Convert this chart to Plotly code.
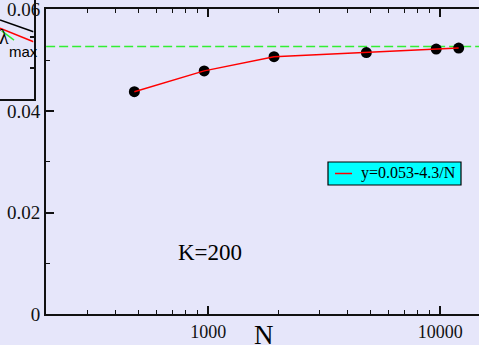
import plotly.graph_objects as go

# ---- data ----
N_values = [480, 960, 1920, 4800, 9600, 12000]
lambda_max = [0.0438, 0.0479, 0.0507, 0.0515, 0.0522, 0.0524]
asymptote = 0.0527
asym_x = [200, 15000]
legend_label = "y=0.053-4.3/N"
annotation_label = "K=200"
x_title = "N"

x_major = [1000, 10000]
x_major_text = ["1000", "10000"]
x_minor = [300, 400, 500, 600, 700, 800, 900, 2000, 3000, 4000, 5000, 6000, 7000, 8000, 9000]
y_major = [0, 0.02, 0.04, 0.06]
y_major_text = ["0", "0.02", "0.04", "0.06"]
y_minor = [0.01, 0.03, 0.05]

# inset fragment (cropped neighbouring panel), inset coordinates 0..1
inset_black_x = [0, 1]
inset_black_y = [0.799, 0.681]
inset_red_x = [0, 1]
inset_red_y = [0.715, 0.580]
inset_green_x = [0.05, 0.42]
inset_green_y = [0.688, 0.597]
inset_ticks = [0.312, 0.627]

W, H = 479, 345
BG = "#E6E6FA"
SERIF = "Liberation Serif"
SANS = "Liberation Sans"

def px(x):
    return x / W

def py(y):
    return 1 - y / H

fig = go.Figure()

fig.add_trace(go.Scatter(x=asym_x, y=[asymptote, asymptote], mode="lines",
                         line=dict(color="#33ee33", width=1.6, dash="9px,4px"),
                         showlegend=False, hoverinfo="skip"))
fig.add_trace(go.Scatter(x=N_values, y=lambda_max, mode="markers",
                         marker=dict(color="black", size=11),
                         showlegend=False))
fig.add_trace(go.Scatter(x=N_values, y=lambda_max, mode="lines",
                         line=dict(color="red", width=1.5),
                         showlegend=False))

# inset traces
for xs, ys, col in [(inset_black_x, inset_black_y, "black"),
                    (inset_red_x, inset_red_y, "red"),
                    (inset_green_x, inset_green_y, "#33ee33")]:
    fig.add_trace(go.Scatter(x=xs, y=ys, mode="lines", xaxis="x2", yaxis="y2",
                             line=dict(color=col, width=1.5), showlegend=False))

axis_common = dict(showgrid=False, zeroline=False, showline=True, linecolor="#111",
                   linewidth=2, ticks="inside", tickcolor="#111", tickwidth=1.5,
                   ticklen=8, automargin=False, ticklabeloverflow="allow")

fig.update_layout(
    template="none",
    width=W, height=H,
    margin=dict(l=0, r=0, t=0, b=0, autoexpand=False),
    paper_bgcolor=BG, plot_bgcolor=BG,
    showlegend=False,
    xaxis=dict(**axis_common, type="log",
               range=[2.3004, 4.1668],
               domain=[46 / W, 1],
               anchor="y",
               mirror="ticks",
               tickvals=x_major, ticktext=x_major_text,
               tickfont=dict(family=SERIF, size=18, color="#111"),
               minor=dict(tickvals=x_minor, ticks="inside", ticklen=4,
                          tickwidth=1.2, tickcolor="#111", showgrid=False)),
    yaxis=dict(**axis_common,
               range=[0, 0.06],
               domain=[(H - 314.3) / H, (H - 9.4) / H],
               anchor="x",
               tickvals=y_major, ticktext=y_major_text,
               tickfont=dict(family=SERIF, size=19, color="#111"),
               minor=dict(tickvals=y_minor, ticks="inside", ticklen=4,
                          tickwidth=1.2, tickcolor="#111", showgrid=False)),
    xaxis2=dict(domain=[0, 33.5 / W], range=[0, 1], anchor="y2", automargin=False,
                showgrid=False, zeroline=False, showline=True, linecolor="#111",
                linewidth=2, showticklabels=False, ticks=""),
    yaxis2=dict(domain=[(H - 99.3) / H, 1], range=[0, 1], anchor="x2", side="right",
                automargin=False,
                showgrid=False, zeroline=False, showline=True, linecolor="#111",
                linewidth=2, showticklabels=False, ticks="inside",
                tickvals=inset_ticks, ticklen=4, tickwidth=1.5, tickcolor="#111"),
)

# legend box (drawn manually, matching the reference style)
fig.add_shape(type="rect", xref="paper", yref="paper",
              x0=px(328), x1=px(461), y0=py(185), y1=py(162),
              fillcolor="cyan", line=dict(color="black", width=1.2))
fig.add_shape(type="line", xref="paper", yref="paper",
              x0=px(335), x1=px(352), y0=py(173.5), y1=py(173.5),
              line=dict(color="red", width=1.5))
fig.add_annotation(xref="paper", yref="paper", x=px(359), y=py(173.5),
                   xanchor="left", yanchor="middle", showarrow=False,
                   text=legend_label,
                   font=dict(family=SERIF, size=16, color="black"))

fig.add_annotation(xref="paper", yref="paper", x=px(210), y=py(253),
                   xanchor="center", yanchor="middle", showarrow=False,
                   text=annotation_label,
                   font=dict(family=SERIF, size=23, color="black"))
fig.add_annotation(xref="paper", yref="paper", x=px(263.5), y=py(335),
                   xanchor="center", yanchor="middle", showarrow=False,
                   text=x_title,
                   font=dict(family=SERIF, size=27, color="black"))

# inset labels
fig.add_annotation(xref="paper", yref="paper", x=px(4), y=py(37),
                   xanchor="center", yanchor="middle", showarrow=False,
                   text="λ", font=dict(family=SERIF, size=20, color="black"))
fig.add_annotation(xref="paper", yref="paper", x=px(23), y=py(51),
                   xanchor="center", yanchor="middle", showarrow=False,
                   text="max", font=dict(family=SANS, size=15, color="black"))

fig.write_html("out.html")
